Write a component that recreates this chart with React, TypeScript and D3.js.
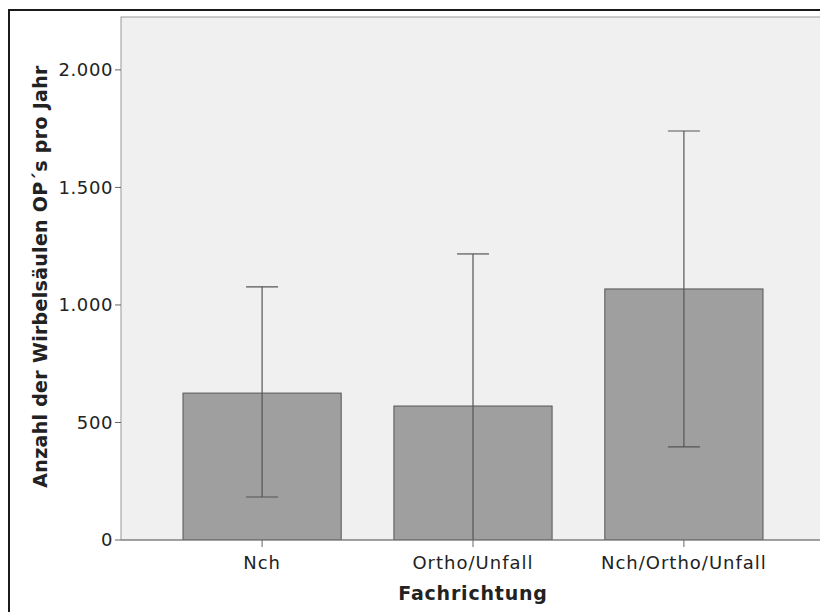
import { useEffect } from 'react';
import * as d3 from 'd3';

// Werte (Mittelwert und Fehlerbalken)
const categories = ['Nch', 'Ortho/Unfall', 'Nch/Ortho/Unfall'];
const means = [625, 570, 1068];
const upper = [1077, 1217, 1740];
const lower = [183, -77, 396];
const yTicks = [0, 500, 1000, 1500, 2000];

const width = 820;
const height = 612;
const plot = { left: 121, top: 17, right: 825, bottom: 540 };

const de = d3.formatLocale({ decimal: ',', thousands: '.', grouping: [3], currency: ['', '€'] });
const fmt = de.format(',d');

export default function App() {
  useEffect(() => {
    document.documentElement.style.overflow = 'hidden';
    document.body.style.margin = '0';
  }, []);

  const x = d3.scaleBand<string>()
    .domain(categories)
    .range([plot.left, plot.right])
    .paddingInner(0.25)
    .paddingOuter(0.294);

  const y = d3.scaleLinear()
    .domain([0, 2225])
    .range([plot.bottom, plot.top]);

  const capW = 32;
  const font = 'DejaVu Sans, Verdana, sans-serif';
  // Hintergrund läuft über den rechten Bildrand hinaus
  const bgRight = width + 10;

  return (
    <svg width={width} height={height} style={{ position: 'fixed', left: 0, top: 0, background: '#fff', display: 'block' }}>
      <defs>
        <clipPath id="plot-clip">
          <rect x={plot.left} y={plot.top} width={bgRight - plot.left} height={plot.bottom - plot.top} />
        </clipPath>
      </defs>

      {/* outer frame */}
      <rect x={9} y={10} width={width + 20} height={height + 20} fill="none" stroke="#1a1a1a" strokeWidth={2} />

      {/* plot background */}
      <rect x={plot.left} y={plot.top} width={bgRight - plot.left} height={plot.bottom - plot.top}
        fill="#f0f0f0" stroke="#9a9a9a" strokeWidth={1} />

      <g clipPath="url(#plot-clip)">
        {categories.map((c, i) => (
          <rect key={c} x={x(c)} y={y(means[i])} width={x.bandwidth()} height={y(0) - y(means[i])}
            fill="#9f9f9f" stroke="#555" strokeWidth={1} />
        ))}
        {categories.map((c, i) => {
          const cx = (x(c) ?? 0) + x.bandwidth() / 2;
          return (
            <g key={c} stroke="#555" strokeWidth={1.2}>
              <line x1={cx} x2={cx} y1={y(upper[i])} y2={y(lower[i])} />
              <line x1={cx - capW / 2} x2={cx + capW / 2} y1={y(upper[i])} y2={y(upper[i])} />
              <line x1={cx - capW / 2} x2={cx + capW / 2} y1={y(lower[i])} y2={y(lower[i])} />
            </g>
          );
        })}
      </g>

      {/* x axis line */}
      <line x1={plot.left} x2={bgRight} y1={plot.bottom} y2={plot.bottom} stroke="#777" strokeWidth={1.2} />

      {/* y ticks */}
      {yTicks.map(t => (
        <g key={t}>
          <line x1={plot.left - 6} x2={plot.left} y1={y(t)} y2={y(t)} stroke="#666" />
          <text x={plot.left - 8} y={y(t)} dy="0.35em" textAnchor="end" fontFamily={font} fontSize={18}
            fill="#222" letterSpacing={0.6}>{fmt(t)}</text>
        </g>
      ))}

      {/* x ticks */}
      {categories.map(c => {
        const cx = (x(c) ?? 0) + x.bandwidth() / 2;
        return (
          <g key={c}>
            <line x1={cx} x2={cx} y1={plot.bottom} y2={plot.bottom + 7} stroke="#666" />
            <text x={cx} y={plot.bottom + 29} textAnchor="middle" fontFamily={font} fontSize={18}
              fill="#222" letterSpacing={1}>{c}</text>
          </g>
        );
      })}

      <text x={(plot.left + plot.right) / 2} y={600} textAnchor="middle" fontFamily={font} fontSize={19}
        fontWeight="bold" fill="#222" letterSpacing={0.8}>Fachrichtung</text>

      <text transform={`translate(47, ${(plot.top + plot.bottom) / 2 - 2}) rotate(-90)`} textAnchor="middle"
        fontFamily={font} fontSize={19} fontWeight="bold" fill="#222" letterSpacing={0.3}>
        Anzahl der Wirbelsäulen OP´s pro Jahr
      </text>
    </svg>
  );
}
